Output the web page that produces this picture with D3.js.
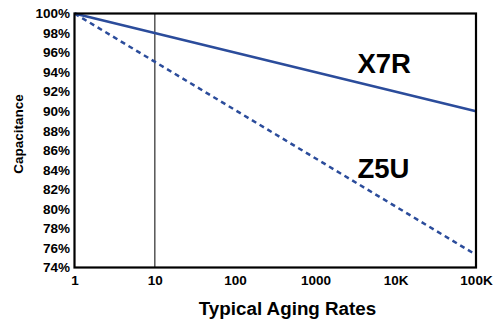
<!DOCTYPE html>
<html><head><meta charset="utf-8">
<script src="https://cdn.jsdelivr.net/npm/d3@7"></script>
<style>body{margin:0;background:#fff}svg{display:block;font-family:"Liberation Sans",Arial,sans-serif}</style>
</head><body>
<svg id="c" width="500" height="327"></svg>
<script>
const xTicks = [1, 10, 100, 1000, 10000, 100000];
const xTickLabels = ["1", "10", "100", "1000", "10K", "100K"];
const yTicks = [74,76,78,80,82,84,86,88,90,92,94,96,98,100];
const seriesNames = ["X7R", "Z5U"];
const x7rX = [1, 100000];
const x7rY = [100, 90];
const z5uX = [1, 100000];
const z5uY = [100, 75.3];

const svg = d3.select("#c");
const L = 74.5, R = 476, T = 13.5, B = 267.5;
const x = d3.scaleLog().domain([1, 100000]).range([L, R]);
const y = d3.scaleLinear().domain([74, 100]).range([B, T]);
const blue = "#2b4c9b";

svg.append("line").attr("x1", x(10)).attr("x2", x(10)).attr("y1", T).attr("y2", B)
  .attr("stroke", "#555").attr("stroke-width", 1.5);

const line = d3.line().x(d => x(d[0])).y(d => y(d[1]));
svg.append("path").datum(x7rX.map((v,i)=>[v,x7rY[i]])).attr("d", line)
  .attr("fill","none").attr("stroke", blue).attr("stroke-width", 2.5);
svg.append("path").datum(z5uX.map((v,i)=>[v,z5uY[i]])).attr("d", line)
  .attr("fill","none").attr("stroke", blue).attr("stroke-width", 2.5)
  .attr("stroke-dasharray","5,4");

svg.append("rect").attr("x", L).attr("y", T).attr("width", R-L).attr("height", B-T)
  .attr("fill","none").attr("stroke","#000").attr("stroke-width", 2.2);

const yAxis = d3.axisLeft(y).tickValues(yTicks).tickSize(0).tickPadding(4).tickFormat(d => d + "%");
const gy = svg.append("g").attr("transform", `translate(${L-0.5},0)`).call(yAxis);
gy.select(".domain").remove();
gy.selectAll("text").attr("font-size", 13.5).attr("font-weight","bold").attr("fill","#000")
  .attr("font-family", '"Liberation Sans",Arial,sans-serif');

const xAxis = d3.axisBottom(x).tickValues(xTicks).tickSize(0).tickPadding(8)
  .tickFormat((d,i) => xTickLabels[i]);
const gx = svg.append("g").attr("transform", `translate(0,${B})`).call(xAxis);
gx.select(".domain").remove();
gx.selectAll("text").attr("font-size", 13.5).attr("font-weight","bold").attr("fill","#000")
  .attr("font-family", '"Liberation Sans",Arial,sans-serif');

svg.append("text").attr("x", x(1000)+42).attr("y", 73).text(seriesNames[0])
  .attr("font-size", 27.5).attr("font-weight","bold");
svg.append("text").attr("x", x(1000)+42).attr("y", 178).text(seriesNames[1])
  .attr("font-size", 27.5).attr("font-weight","bold");

svg.append("text").attr("x", 287.5).attr("y", 315).attr("text-anchor","middle")
  .attr("font-size", 18.8).attr("font-weight","bold").text("Typical Aging Rates");
svg.append("text").attr("transform","translate(23,134) rotate(-90)").attr("text-anchor","middle")
  .attr("font-size", 13.5).attr("font-weight","bold").text("Capacitance");
</script>
</body></html>
